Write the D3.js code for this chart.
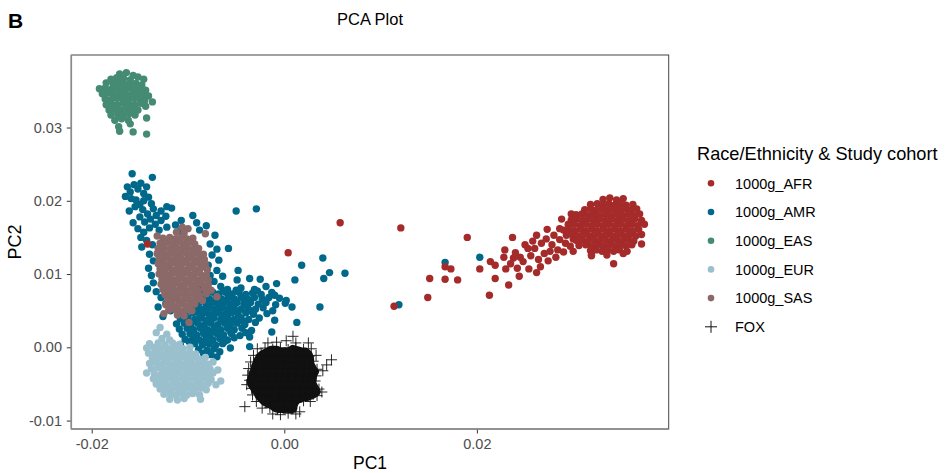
<!DOCTYPE html>
<html>
<head>
<meta charset="utf-8">
<script src="https://cdn.jsdelivr.net/npm/d3@7"></script>
<style>
  body { margin: 0; background: #fff; }
  svg { display: block; font-family: 'Liberation Sans', Arial, sans-serif; }
</style>
</head>
<body>
<div id="chart"></div>
<script>
// Groups shown in the legend, in legend order
const groups = ['1000g_AFR', '1000g_AMR', '1000g_EAS', '1000g_EUR', '1000g_SAS', 'FOX'];
const colors = ['#A52A2A', '#00688B', '#458B74', '#9AC0CD', '#8B6969', '#111111'];

// Tick values
const xTicks = [-0.02, 0, 0.02];
const yTicks = [-0.01, 0, 0.01, 0.02, 0.03];

// [PC1, PC2] per sample
const amr = [
  [-0.0158,0.0237],[-0.0137,0.0232],
  [-0.0163,0.0219],[-0.0160,0.0212],[-0.0156,0.0222],[-0.0152,0.0216],[-0.0149,0.0224],[-0.0146,0.0210],[-0.0143,0.0219],[-0.0165,0.0206],[-0.0159,0.0203],
  [-0.0154,0.0201],[-0.0150,0.0195],[-0.0146,0.0200],[-0.0141,0.0205],[-0.0138,0.0196],[-0.0155,0.0192],[-0.0161,0.0186],
  [-0.0147,0.0188],[-0.0142,0.0182],[-0.0136,0.0189],[-0.0133,0.0180],[-0.0128,0.0186],[-0.0122,0.0192],[-0.0117,0.0190],
  [-0.0150,0.0178],[-0.0157,0.0170],[-0.0145,0.0171],[-0.0139,0.0175],[-0.0134,0.0168],[-0.0128,0.0173],[-0.0123,0.0179],
  [-0.0152,0.0162],[-0.0146,0.0157],[-0.0140,0.0163],[-0.0130,0.0160],[-0.0122,0.0164],[-0.0113,0.0167],[-0.0107,0.0173],[-0.0095,0.0180],
  [-0.0108,0.0159],[-0.0091,0.0170],[-0.0088,0.0160],[-0.0081,0.0166],
  [-0.0149,0.0150],[-0.0143,0.0146],[-0.0148,0.0137],[-0.0137,0.0140],[-0.0140,0.0127],[-0.0136,0.0118],[-0.0141,0.0108],[-0.0138,0.0098],
  [-0.0136,0.0088],[-0.0142,0.0080],[-0.0133,0.0076],[-0.0128,0.0068],[-0.0123,0.0060],[-0.0131,0.0055],[-0.0118,0.0050],[-0.0126,0.0042],
  [-0.0072,0.0153],[-0.0070,0.0134],[-0.0058,0.0135],[-0.0068,0.0119],[-0.0070,0.0105],[-0.0077,0.0141],[-0.0075,0.0126],[-0.0079,0.0112],
  [-0.0077,0.0098],[-0.0073,0.0090],[-0.0064,0.0097],[-0.0048,0.0105],[-0.0049,0.0092],[-0.0036,0.0094],[-0.0025,0.0093],[-0.0008,0.0087],
  [0.0011,0.0092],[0.0018,0.0112],
  [-0.0050,0.0186],[-0.0029,0.0189],[0.0040,0.0122],[0.0047,0.0102],[0.0063,0.0101],[0.0041,0.0094],[0.0002,0.0064],[0.0008,0.0055],
  [0.0037,0.0055],[0.0013,0.0034],[-0.0013,0.0021],[-0.0010,0.0037],
  [0.0167,0.0116],[0.0203,0.0123],[0.0119,0.0058],
  [-0.0089,0.0082],[-0.0082,0.0080],[-0.0066,0.0083],[-0.0059,0.0079],[-0.0045,0.0081],[-0.0031,0.0079],[-0.0019,0.0083],
  [-0.0087,0.0074],[-0.0080,0.0073],[-0.0074,0.0075],[-0.0068,0.0073],[-0.0061,0.0075],[-0.0054,0.0073],[-0.0047,0.0075],[-0.0040,0.0072],
  [-0.0033,0.0074],[-0.0024,0.0072],[-0.0013,0.0075],
  [-0.0091,0.0066],[-0.0084,0.0068],[-0.0078,0.0066],[-0.0071,0.0068],[-0.0065,0.0066],[-0.0058,0.0068],[-0.0052,0.0066],[-0.0045,0.0068],
  [-0.0038,0.0066],[-0.0031,0.0068],[-0.0023,0.0066],[-0.0016,0.0068],[-0.0005,0.0067],
  [-0.0095,0.0060],[-0.0088,0.0061],[-0.0081,0.0059],[-0.0075,0.0061],[-0.0069,0.0059],[-0.0062,0.0061],[-0.0056,0.0059],[-0.0049,0.0061],
  [-0.0042,0.0059],[-0.0035,0.0061],[-0.0027,0.0059],[-0.0019,0.0061],[-0.0009,0.0058],
  [-0.0098,0.0053],[-0.0091,0.0054],[-0.0085,0.0052],[-0.0078,0.0054],[-0.0072,0.0052],[-0.0065,0.0054],[-0.0059,0.0052],[-0.0052,0.0054],
  [-0.0045,0.0052],[-0.0038,0.0054],[-0.0030,0.0052],[-0.0022,0.0054],
  [-0.0103,0.0046],[-0.0095,0.0047],[-0.0088,0.0045],[-0.0081,0.0047],[-0.0075,0.0045],[-0.0068,0.0047],[-0.0062,0.0045],[-0.0055,0.0047],
  [-0.0048,0.0045],[-0.0040,0.0047],[-0.0032,0.0045],[-0.0018,0.0046],
  [-0.0108,0.0039],[-0.0100,0.0040],[-0.0093,0.0038],[-0.0086,0.0040],[-0.0079,0.0038],[-0.0073,0.0040],[-0.0066,0.0038],[-0.0059,0.0040],
  [-0.0052,0.0038],[-0.0045,0.0040],[-0.0037,0.0038],[-0.0026,0.0040],
  [-0.0112,0.0032],[-0.0104,0.0033],[-0.0097,0.0031],[-0.0090,0.0033],[-0.0083,0.0031],[-0.0076,0.0033],[-0.0069,0.0031],[-0.0062,0.0033],
  [-0.0056,0.0031],[-0.0049,0.0033],[-0.0041,0.0031],
  [-0.0109,0.0025],[-0.0101,0.0026],[-0.0094,0.0024],[-0.0087,0.0026],[-0.0080,0.0024],[-0.0073,0.0026],[-0.0066,0.0024],[-0.0059,0.0026],
  [-0.0052,0.0024],[-0.0044,0.0026],[-0.0034,0.0023],
  [-0.0106,0.0018],[-0.0098,0.0019],[-0.0091,0.0017],[-0.0084,0.0019],[-0.0077,0.0017],[-0.0070,0.0019],[-0.0063,0.0017],[-0.0055,0.0019],[-0.0046,0.0016],
  [-0.0103,0.0011],[-0.0095,0.0012],[-0.0088,0.0010],[-0.0081,0.0012],[-0.0074,0.0010],[-0.0067,0.0012],[-0.0059,0.0010],[-0.0052,0.0013],[-0.0036,0.0014],
  [-0.0108,0.0004],[-0.0093,0.0005],[-0.0085,0.0003],[-0.0078,0.0005],[-0.0071,0.0003],[-0.0064,0.0005],[-0.0036,0.0001],
  [-0.0089,-0.0003],[-0.0080,-0.0004],[-0.0073,-0.0002],[-0.0067,-0.0006],
  [-0.0070,-0.0013],[-0.0076,-0.0010],
  [-0.0085,0.0078],[-0.0063,0.0077],[-0.0050,0.0078],[-0.0028,0.0077],[-0.0010,0.0071],
  [-0.0087,0.0064],[-0.0068,0.0063],[-0.0041,0.0064],[-0.0020,0.0063],[0.0001,0.0060],
  [-0.0093,0.0050],[-0.0070,0.0050],[-0.0051,0.0049],[-0.0035,0.0050],[-0.0012,0.0050],
  [-0.0101,0.0036],[-0.0080,0.0035],[-0.0058,0.0036],[-0.0043,0.0036],[-0.0030,0.0034],
  [-0.0097,0.0022],[-0.0076,0.0021],[-0.0056,0.0022],[-0.0040,0.0020],
  [-0.0099,0.0008],[-0.0083,0.0007],[-0.0062,0.0008],[-0.0056,-0.0001],[-0.0084,-0.0008]
];

const afr = [
  [-0.0142,0.0141],[0.0004,0.0129],[0.0058,0.0170],[0.0121,0.0163],[0.0114,0.0056],[0.0149,0.0068],[0.0151,0.0094],[0.0167,0.0093],
  [0.0180,0.0092],[0.0167,0.0110],[0.0173,0.0107],[0.0190,0.0150],[0.0237,0.0150],
  [0.0203,0.0107],[0.0214,0.0117],[0.0219,0.0112],[0.0230,0.0107],[0.0219,0.0094],[0.0233,0.0085],[0.0213,0.0071],[0.0244,0.0097],
  [0.0254,0.0107],[0.0262,0.0102],
  [0.0228,0.0123],[0.0229,0.0133],[0.0238,0.0122],[0.0245,0.0123],[0.0253,0.0135],[0.0262,0.0153],[0.0273,0.0161],[0.0267,0.0142],
  [0.0276,0.0131],[0.0286,0.0147],[0.0288,0.0175],[0.0298,0.0182],[0.0293,0.0158],[0.0300,0.0131],[0.0319,0.0126],[0.0342,0.0114],
  [0.0240,0.0129],[0.0248,0.0117],[0.0256,0.0125],[0.0260,0.0135],[0.0264,0.0120],[0.0270,0.0128],[0.0272,0.0148],[0.0278,0.0140],
  [0.0280,0.0153],[0.0284,0.0133],[0.0286,0.0162],[0.0292,0.0142],[0.0295,0.0168],[0.0300,0.0148],[0.0258,0.0145],[0.0250,0.0140],
  [0.0266,0.0110],[0.0274,0.0118],[0.0282,0.0123],[0.0290,0.0130],[0.0297,0.0138],[0.0235,0.0114],[0.0242,0.0108],
  [0.0331,0.0202],[0.0338,0.0204],[0.0345,0.0201],[0.0352,0.0203],
  [0.0318,0.0195],[0.0325,0.0196],[0.0331,0.0194],[0.0337,0.0196],[0.0343,0.0194],[0.0349,0.0196],[0.0355,0.0194],[0.0362,0.0195],
  [0.0312,0.0188],[0.0318,0.0189],[0.0324,0.0187],[0.0330,0.0189],[0.0336,0.0187],[0.0342,0.0189],[0.0348,0.0187],[0.0354,0.0189],[0.0360,0.0187],[0.0366,0.0189],
  [0.0303,0.0181],[0.0309,0.0182],[0.0315,0.0180],[0.0321,0.0182],[0.0327,0.0180],[0.0333,0.0182],[0.0339,0.0180],[0.0345,0.0182],
  [0.0351,0.0180],[0.0357,0.0182],[0.0363,0.0180],[0.0369,0.0182],
  [0.0298,0.0174],[0.0304,0.0175],[0.0310,0.0173],[0.0316,0.0175],[0.0322,0.0173],[0.0328,0.0175],[0.0334,0.0173],[0.0340,0.0175],
  [0.0346,0.0173],[0.0352,0.0175],[0.0358,0.0173],[0.0364,0.0175],[0.0371,0.0173],
  [0.0295,0.0167],[0.0301,0.0168],[0.0307,0.0166],[0.0313,0.0168],[0.0319,0.0166],[0.0325,0.0168],[0.0331,0.0166],[0.0337,0.0168],
  [0.0343,0.0166],[0.0349,0.0168],[0.0355,0.0166],[0.0361,0.0168],[0.0367,0.0166],[0.0374,0.0168],
  [0.0290,0.0160],[0.0296,0.0161],[0.0302,0.0159],[0.0308,0.0161],[0.0314,0.0159],[0.0320,0.0161],[0.0326,0.0159],[0.0332,0.0161],
  [0.0338,0.0159],[0.0344,0.0161],[0.0350,0.0159],[0.0356,0.0161],[0.0362,0.0159],[0.0368,0.0161],
  [0.0293,0.0153],[0.0299,0.0154],[0.0305,0.0152],[0.0311,0.0154],[0.0317,0.0152],[0.0323,0.0154],[0.0329,0.0152],[0.0335,0.0154],
  [0.0341,0.0152],[0.0347,0.0154],[0.0353,0.0152],[0.0359,0.0154],[0.0365,0.0152],[0.0371,0.0154],
  [0.0303,0.0146],[0.0309,0.0147],[0.0315,0.0145],[0.0321,0.0147],[0.0327,0.0145],[0.0333,0.0147],[0.0339,0.0145],[0.0345,0.0147],
  [0.0351,0.0145],[0.0357,0.0147],[0.0363,0.0145],
  [0.0306,0.0139],[0.0313,0.0140],[0.0319,0.0138],[0.0325,0.0140],[0.0331,0.0138],[0.0337,0.0140],[0.0343,0.0138],[0.0349,0.0140],
  [0.0355,0.0138],[0.0361,0.0140],[0.0371,0.0141],
  [0.0318,0.0132],[0.0324,0.0133],[0.0330,0.0131],[0.0336,0.0133],[0.0342,0.0131],[0.0348,0.0133],[0.0356,0.0131],
  [0.0319,0.0125],[0.0335,0.0126],[0.0352,0.0128]
];

const eas = [
  [-0.0171,0.0373],[-0.0164,0.0375],[-0.0157,0.0371],
  [-0.0180,0.0366],[-0.0174,0.0368],[-0.0167,0.0367],[-0.0160,0.0365],[-0.0152,0.0369],[-0.0146,0.0366],
  [-0.0185,0.0361],[-0.0178,0.0360],[-0.0172,0.0361],[-0.0166,0.0359],[-0.0160,0.0360],[-0.0154,0.0360],[-0.0148,0.0358],
  [-0.0192,0.0353],[-0.0186,0.0354],[-0.0180,0.0352],[-0.0174,0.0354],[-0.0168,0.0353],[-0.0162,0.0354],[-0.0156,0.0352],[-0.0150,0.0354],[-0.0144,0.0351],
  [-0.0189,0.0346],[-0.0183,0.0347],[-0.0177,0.0345],[-0.0171,0.0347],[-0.0165,0.0346],[-0.0159,0.0345],[-0.0153,0.0347],[-0.0147,0.0346],[-0.0141,0.0343],
  [-0.0186,0.0339],[-0.0180,0.0338],[-0.0174,0.0340],[-0.0168,0.0339],[-0.0162,0.0338],[-0.0156,0.0340],[-0.0150,0.0339],[-0.0145,0.0337],[-0.0137,0.0335],
  [-0.0185,0.0331],[-0.0179,0.0332],[-0.0173,0.0331],[-0.0167,0.0333],[-0.0161,0.0332],[-0.0155,0.0331],[-0.0149,0.0333],[-0.0144,0.0329],
  [-0.0182,0.0324],[-0.0176,0.0325],[-0.0170,0.0324],[-0.0164,0.0326],[-0.0158,0.0325],[-0.0152,0.0324],
  [-0.0180,0.0317],[-0.0173,0.0318],[-0.0167,0.0317],[-0.0161,0.0319],[-0.0155,0.0317],[-0.0143,0.0313],
  [-0.0176,0.0310],[-0.0169,0.0312],[-0.0162,0.0310],
  [-0.0172,0.0301],[-0.0171,0.0295],[-0.0157,0.0294],[-0.0143,0.0291],[-0.0160,0.0305]
];

const eur = [
  [-0.0129,0.0027],
  [-0.0133,0.0020],[-0.0122,0.0018],
  [-0.0127,0.0012],[-0.0119,0.0010],
  [-0.0140,0.0005],[-0.0131,0.0006],[-0.0124,0.0004],[-0.0116,0.0006],[-0.0109,0.0004],
  [-0.0143,-0.0001],[-0.0136,0.0000],[-0.0129,-0.0002],[-0.0123,0.0000],[-0.0117,-0.0002],[-0.0111,0.0000],[-0.0105,-0.0002],[-0.0098,0.0000],
  [-0.0141,-0.0008],[-0.0134,-0.0007],[-0.0128,-0.0009],[-0.0122,-0.0007],[-0.0116,-0.0009],[-0.0110,-0.0007],[-0.0104,-0.0009],[-0.0098,-0.0007],[-0.0092,-0.0009],
  [-0.0137,-0.0015],[-0.0131,-0.0014],[-0.0125,-0.0016],[-0.0119,-0.0014],[-0.0113,-0.0016],[-0.0107,-0.0014],[-0.0101,-0.0016],[-0.0095,-0.0014],
  [-0.0089,-0.0016],[-0.0082,-0.0014],
  [-0.0140,-0.0022],[-0.0133,-0.0021],[-0.0127,-0.0023],[-0.0121,-0.0021],[-0.0115,-0.0023],[-0.0109,-0.0021],[-0.0103,-0.0023],[-0.0097,-0.0021],
  [-0.0091,-0.0023],[-0.0085,-0.0021],[-0.0079,-0.0023],[-0.0074,-0.0020],
  [-0.0138,-0.0029],[-0.0131,-0.0028],[-0.0125,-0.0030],[-0.0119,-0.0028],[-0.0113,-0.0030],[-0.0107,-0.0028],[-0.0101,-0.0030],[-0.0095,-0.0028],
  [-0.0089,-0.0030],[-0.0083,-0.0028],[-0.0077,-0.0030],[-0.0069,-0.0031],
  [-0.0143,-0.0035],[-0.0135,-0.0036],[-0.0128,-0.0037],[-0.0122,-0.0035],[-0.0116,-0.0037],[-0.0110,-0.0035],[-0.0104,-0.0037],[-0.0098,-0.0035],
  [-0.0092,-0.0037],[-0.0086,-0.0035],[-0.0080,-0.0037],[-0.0074,-0.0035],
  [-0.0136,-0.0043],[-0.0130,-0.0042],[-0.0124,-0.0044],[-0.0118,-0.0042],[-0.0112,-0.0044],[-0.0106,-0.0042],[-0.0100,-0.0044],[-0.0094,-0.0042],
  [-0.0088,-0.0044],[-0.0082,-0.0042],[-0.0076,-0.0044],[-0.0066,-0.0046],
  [-0.0133,-0.0050],[-0.0127,-0.0049],[-0.0121,-0.0051],[-0.0115,-0.0049],[-0.0109,-0.0051],[-0.0103,-0.0049],[-0.0097,-0.0051],[-0.0091,-0.0049],
  [-0.0085,-0.0051],[-0.0079,-0.0049],[-0.0071,-0.0051],
  [-0.0129,-0.0057],[-0.0123,-0.0056],[-0.0117,-0.0058],[-0.0111,-0.0056],[-0.0105,-0.0058],[-0.0099,-0.0056],[-0.0093,-0.0058],[-0.0087,-0.0056],[-0.0081,-0.0058],
  [-0.0125,-0.0064],[-0.0119,-0.0063],[-0.0113,-0.0065],[-0.0107,-0.0063],[-0.0101,-0.0065],[-0.0095,-0.0063],[-0.0088,-0.0065],
  [-0.0119,-0.0071],[-0.0111,-0.0072],[-0.0104,-0.0070],[-0.0087,-0.0071]
];

const sas = [
  [-0.0106,0.0164],[-0.0100,0.0162],
  [-0.0132,0.0152],[-0.0112,0.0157],[-0.0104,0.0156],[-0.0082,0.0155],
  [-0.0126,0.0149],[-0.0119,0.0150],[-0.0113,0.0148],[-0.0107,0.0150],[-0.0101,0.0148],[-0.0095,0.0149],
  [-0.0129,0.0142],[-0.0123,0.0143],[-0.0117,0.0141],[-0.0111,0.0143],[-0.0105,0.0141],[-0.0099,0.0143],[-0.0093,0.0141],
  [-0.0131,0.0135],[-0.0125,0.0136],[-0.0119,0.0134],[-0.0113,0.0136],[-0.0107,0.0134],[-0.0101,0.0136],[-0.0095,0.0134],[-0.0089,0.0135],
  [-0.0132,0.0128],[-0.0126,0.0129],[-0.0120,0.0127],[-0.0114,0.0129],[-0.0108,0.0127],[-0.0102,0.0129],[-0.0096,0.0127],[-0.0090,0.0129],[-0.0084,0.0127],
  [-0.0130,0.0121],[-0.0124,0.0122],[-0.0118,0.0120],[-0.0112,0.0122],[-0.0106,0.0120],[-0.0100,0.0122],[-0.0094,0.0120],[-0.0088,0.0122],[-0.0083,0.0120],
  [-0.0131,0.0114],[-0.0125,0.0115],[-0.0119,0.0113],[-0.0113,0.0115],[-0.0107,0.0113],[-0.0101,0.0115],[-0.0095,0.0113],[-0.0089,0.0115],[-0.0082,0.0113],
  [-0.0129,0.0107],[-0.0123,0.0108],[-0.0117,0.0106],[-0.0111,0.0108],[-0.0105,0.0106],[-0.0099,0.0108],[-0.0093,0.0106],[-0.0087,0.0108],[-0.0080,0.0106],
  [-0.0130,0.0100],[-0.0124,0.0101],[-0.0118,0.0099],[-0.0112,0.0101],[-0.0106,0.0099],[-0.0100,0.0101],[-0.0094,0.0099],[-0.0088,0.0101],[-0.0081,0.0099],
  [-0.0127,0.0093],[-0.0121,0.0094],[-0.0115,0.0092],[-0.0109,0.0094],[-0.0103,0.0092],[-0.0097,0.0094],[-0.0091,0.0092],[-0.0085,0.0094],[-0.0079,0.0092],
  [-0.0128,0.0086],[-0.0122,0.0087],[-0.0116,0.0085],[-0.0110,0.0087],[-0.0104,0.0085],[-0.0098,0.0087],[-0.0092,0.0085],[-0.0086,0.0087],[-0.0079,0.0085],
  [-0.0126,0.0079],[-0.0120,0.0080],[-0.0114,0.0078],[-0.0108,0.0080],[-0.0102,0.0078],[-0.0096,0.0080],[-0.0090,0.0078],[-0.0083,0.0080],[-0.0076,0.0078],
  [-0.0124,0.0072],[-0.0118,0.0073],[-0.0112,0.0071],[-0.0106,0.0073],[-0.0100,0.0071],[-0.0094,0.0073],[-0.0088,0.0071],[-0.0081,0.0073],[-0.0070,0.0069],
  [-0.0121,0.0065],[-0.0115,0.0066],[-0.0109,0.0064],[-0.0103,0.0066],[-0.0097,0.0064],[-0.0091,0.0066],[-0.0085,0.0064],
  [-0.0123,0.0058],[-0.0117,0.0059],[-0.0111,0.0057],[-0.0105,0.0059],[-0.0099,0.0057],[-0.0093,0.0059],
  [-0.0120,0.0051],[-0.0114,0.0052],[-0.0108,0.0050],[-0.0102,0.0052],[-0.0096,0.0050],
  [-0.0125,0.0046],[-0.0111,0.0044],[-0.0104,0.0043],
  [-0.0099,0.0034]
];

const fox = [
  [0.0009,0.0015],[-0.0017,0.0006],[-0.0008,0.0007],[0.0002,0.0009],[0.0012,0.0006],[0.0025,0.0006],
  [-0.0028,-0.0002],[-0.0020,-0.0001],[-0.0012,-0.0003],[-0.0004,-0.0001],[0.0004,-0.0003],[0.0012,-0.0001],[0.0020,-0.0003],[0.0028,-0.0002],
  [-0.0032,-0.0011],[-0.0024,-0.0010],[-0.0016,-0.0012],[-0.0009,-0.0010],[-0.0002,-0.0012],[0.0005,-0.0010],[0.0012,-0.0012],[0.0019,-0.0010],
  [0.0026,-0.0012],[0.0033,-0.0011],
  [-0.0035,-0.0020],[-0.0027,-0.0019],[-0.0020,-0.0021],[-0.0013,-0.0019],[-0.0006,-0.0021],[0.0001,-0.0019],[0.0008,-0.0021],[0.0015,-0.0019],
  [0.0022,-0.0021],[0.0030,-0.0019],[0.0040,-0.0032],[0.0049,-0.0017],[0.0044,-0.0024],
  [-0.0037,-0.0029],[-0.0029,-0.0028],[-0.0022,-0.0030],[-0.0015,-0.0028],[-0.0008,-0.0030],[-0.0001,-0.0028],[0.0006,-0.0030],[0.0013,-0.0028],
  [0.0020,-0.0030],[0.0027,-0.0028],[0.0034,-0.0030],
  [-0.0038,-0.0038],[-0.0030,-0.0037],[-0.0023,-0.0039],[-0.0016,-0.0037],[-0.0009,-0.0039],[-0.0002,-0.0037],[0.0005,-0.0039],[0.0012,-0.0037],
  [0.0019,-0.0039],[0.0026,-0.0037],[0.0033,-0.0039],
  [-0.0036,-0.0045],[-0.0039,-0.0051],[-0.0031,-0.0047],[-0.0024,-0.0046],[-0.0017,-0.0048],[-0.0010,-0.0046],[-0.0003,-0.0048],[0.0004,-0.0046],
  [0.0011,-0.0048],[0.0018,-0.0046],[0.0025,-0.0048],[0.0032,-0.0046],
  [-0.0034,-0.0056],[-0.0027,-0.0055],[-0.0020,-0.0057],[-0.0013,-0.0055],[-0.0006,-0.0057],[0.0001,-0.0055],[0.0008,-0.0057],[0.0015,-0.0055],
  [0.0022,-0.0057],[0.0029,-0.0055],[0.0036,-0.0057],[0.0039,-0.0061],
  [-0.0033,-0.0065],[-0.0026,-0.0064],[-0.0019,-0.0066],[-0.0012,-0.0064],[-0.0005,-0.0066],[0.0002,-0.0064],[0.0009,-0.0066],[0.0016,-0.0064],
  [0.0023,-0.0066],[0.0030,-0.0064],[0.0034,-0.0066],
  [-0.0029,-0.0074],[-0.0022,-0.0073],[-0.0015,-0.0075],[-0.0008,-0.0073],[-0.0001,-0.0075],[0.0006,-0.0073],[0.0013,-0.0075],[0.0020,-0.0073],[0.0027,-0.0074],
  [-0.0041,-0.0081],[-0.0023,-0.0083],[-0.0015,-0.0082],[-0.0007,-0.0084],[0.0000,-0.0082],[0.0008,-0.0084],[0.0016,-0.0088],
  [-0.0012,-0.0091],[-0.0004,-0.0092],[0.0004,-0.0090],[0.0012,-0.0091]
];

// Layout
const width = 945;
const height = 473;
const panel = { left: 71.3, right: 668.7, top: 55, bottom: 429 };

const svg = d3.select('#chart')
  .append('svg')
  .attr('width', width)
  .attr('height', height);

svg.append('rect')
  .attr('width', width)
  .attr('height', height)
  .attr('fill', '#fff');

// Scales
const x = d3.scaleLinear()
  .domain([-0.02212, 0.03992])
  .range([panel.left, panel.right]);

const y = d3.scaleLinear()
  .domain([-0.01115, 0.0399])
  .range([panel.bottom, panel.top]);

// Panel border
svg.append('rect')
  .attr('x', panel.left)
  .attr('y', panel.top)
  .attr('width', panel.right - panel.left)
  .attr('height', panel.bottom - panel.top)
  .attr('fill', 'none')
  .attr('stroke', '#444')
  .attr('stroke-width', 1);

// Points, drawn group by group
const plot = svg.append('g');
const drawDots = (rows, color) => {
  plot.append('g')
    .selectAll('circle')
    .data(rows)
    .enter()
    .append('circle')
    .attr('cx', d => x(d[0]))
    .attr('cy', d => y(d[1]))
    .attr('r', 3.7)
    .attr('fill', color);
};

drawDots(amr, colors[1]);
drawDots(afr, colors[0]);
drawDots(eas, colors[2]);
drawDots(eur, colors[3]);
drawDots(sas, colors[4]);

// FOX: overplotted core from a density estimate, then the crosses
const foxPx = fox.map(d => [x(d[0]), y(d[1])]);
const foxDensity = d3.contourDensity()
  .x(d => d[0])
  .y(d => d[1])
  .size([width, height])
  .cellSize(1)
  .bandwidth(5)
  .thresholds(40)(foxPx);
const peak = d3.max(foxDensity, c => c.value);
const foxCore = foxDensity.find(c => c.value >= peak * 0.72);
if (foxCore) {
  plot.append('path')
    .datum(foxCore)
    .attr('d', d3.geoPath())
    .attr('fill', colors[5]);
}

const cross = 'M-5.5,0H5.5M0,-5.5V5.5';
plot.append('g')
  .selectAll('path')
  .data(fox)
  .enter()
  .append('path')
  .attr('transform', d => `translate(${x(d[0])},${y(d[1])})`)
  .attr('d', cross)
  .attr('stroke', colors[5])
  .attr('stroke-width', 0.9)
  .attr('fill', 'none');

// Axes
const xAxis = d3.axisBottom(x)
  .tickValues(xTicks)
  .tickSize(4.5)
  .tickPadding(5)
  .tickFormat(d => d.toFixed(2));

const yAxis = d3.axisLeft(y)
  .tickValues(yTicks)
  .tickSize(4.5)
  .tickPadding(4.8)
  .tickFormat(d => d.toFixed(2));

const gx = svg.append('g')
  .attr('transform', `translate(0, ${panel.bottom})`)
  .call(xAxis);

const gy = svg.append('g')
  .attr('transform', `translate(${panel.left}, 0)`)
  .call(yAxis);

[gx, gy].forEach(g => {
  g.select('.domain').remove();
  g.selectAll('.tick line').attr('stroke', '#333');
  g.selectAll('.tick text')
    .attr('fill', '#4D4D4D')
    .style('font-size', '14.5px')
    .style('font-family', "'Liberation Sans', Arial, sans-serif");
});

// Axis lines
svg.append('line')
  .attr('x1', panel.left).attr('x2', panel.left)
  .attr('y1', panel.top).attr('y2', panel.bottom)
  .attr('stroke', '#8c8c8c').attr('stroke-width', 1.6);
svg.append('line')
  .attr('x1', panel.left).attr('x2', panel.right)
  .attr('y1', panel.bottom).attr('y2', panel.bottom)
  .attr('stroke', '#8c8c8c').attr('stroke-width', 1.6);

// Titles
svg.append('text')
  .attr('x', 8)
  .attr('y', 28.3)
  .style('font-size', '21px')
  .style('font-weight', 'bold')
  .text('B');

svg.append('text')
  .attr('x', (panel.left + panel.right) / 2)
  .attr('y', 25)
  .attr('text-anchor', 'middle')
  .style('font-size', '16.5px')
  .text('PCA Plot');

svg.append('text')
  .attr('x', (panel.left + panel.right) / 2)
  .attr('y', 468.5)
  .attr('text-anchor', 'middle')
  .style('font-size', '17.5px')
  .text('PC1');

svg.append('text')
  .attr('transform', `translate(21, ${(panel.top + panel.bottom) / 2}) rotate(-90)`)
  .attr('text-anchor', 'middle')
  .style('font-size', '18px')
  .text('PC2');

// Legend
const legend = svg.append('g').attr('transform', 'translate(697, 0)');

legend.append('text')
  .attr('x', 0)
  .attr('y', 160)
  .style('font-size', '18.2px')
  .text('Race/Ethnicity & Study cohort');

const items = legend.selectAll('.item')
  .data(groups)
  .enter()
  .append('g')
  .attr('class', 'item')
  .attr('transform', (d, i) => `translate(14, ${183.3 + i * 28.7})`);

items.filter(d => d !== 'FOX')
  .append('circle')
  .attr('r', 3.3)
  .attr('fill', d => colors[groups.indexOf(d)]);

items.filter(d => d === 'FOX')
  .append('path')
  .attr('d', 'M-6,0H6M0,-6V6')
  .attr('stroke', colors[5])
  .attr('stroke-width', 1);

items.append('text')
  .attr('x', 24)
  .attr('y', 5.2)
  .style('font-size', '14.5px')
  .text(d => d);
</script>
</body>
</html>
